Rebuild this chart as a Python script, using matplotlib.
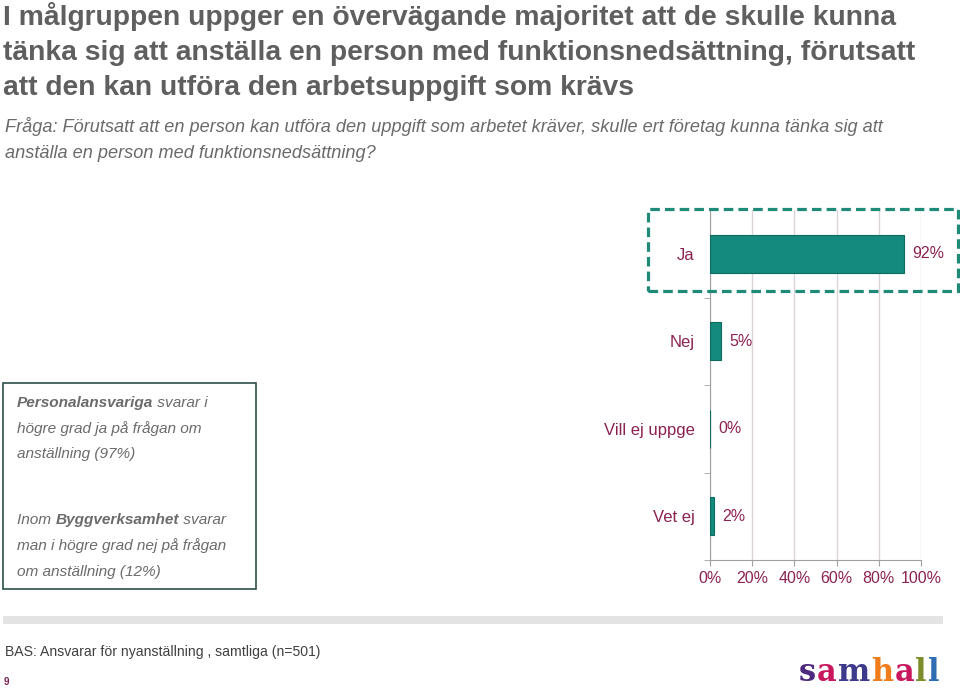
import matplotlib
matplotlib.use("Agg")
import matplotlib.pyplot as plt
from matplotlib.patches import Rectangle

# data
categories = ["Ja", "Nej", "Vill ej uppge", "Vet ej"]
values = [92, 5, 0, 2]
xticks = [0, 20, 40, 60, 80, 100]

title_lines = ["I målgruppen uppger en övervägande majoritet att de skulle kunna",
               "tänka sig att anställa en person med funktionsnedsättning, förutsatt",
               "att den kan utföra den arbetsuppgift som krävs"]
question_lines = ["Fråga: Förutsatt att en person kan utföra den uppgift som arbetet kräver, skulle ert företag kunna tänka sig att",
                  "anställa en person med funktionsnedsättning?"]
box_lines = [[("Personalansvariga", "bold"), (" svarar i", "normal")],
             [("högre grad ja på frågan om", "normal")],
             [("anställning (97%)", "normal")],
             [("Inom ", "normal"), ("Byggverksamhet", "bold"), (" svarar", "normal")],
             [("man i högre grad nej på frågan", "normal")],
             [("om anställning (12%)", "normal")]]
bas_text = "BAS: Ansvarar för nyanställning , samtliga (n=501)"
logo_letters = ["s", "a", "m", "h", "a", "l", "l"]
logo_colors = ["#4e2a7e", "#c8175d", "#3d3a8c", "#f07c1b", "#c8175d", "#7d8d2a", "#2f6cb3"]

plt.rcParams['font.family'] = ["Liberation Sans", "DejaVu Sans"]

W, H = 960, 690
fig = plt.figure(figsize=(9.6, 6.9), dpi=100)
fig.patch.set_facecolor("white")

def fx(x):
    return x / W

def fy(y):
    return 1 - y / H

# title
for i, line in enumerate(title_lines):
    fig.text(fx(3), fy(25 + i * 35), line, fontsize=20.3, fontweight="bold",
             color="#5f5f5f", va="baseline")

# question
for i, line in enumerate(question_lines):
    fig.text(fx(5), fy(132 + i * 26), line, fontsize=13.1, style="italic",
             color="#6a6a6a", va="baseline")

# chart
ax = fig.add_axes([fx(710), fy(560), fx(921 - 710), (560 - 210) / H])
pos = list(range(len(categories)))
ax.barh(pos, values, height=0.43, color="#138a7c", edgecolor="#0c6a5f", linewidth=0.8, zorder=3)
ax.set_xlim(0, 100)
ax.set_ylim(len(categories) - 0.5, -0.5)
ax.set_xticks(xticks)
ax.set_xticklabels([f"{t}%" for t in xticks], fontsize=11.5, color="#8b2252")
ax.set_yticks(pos)
ax.set_yticklabels(categories, fontsize=12, color="#8b2252")
ax.set_yticks([p + 0.5 for p in pos], minor=True)
ax.tick_params(axis="y", which="major", length=0, pad=11)
ax.tick_params(axis="y", which="minor", length=4, color="#a0a0a0", direction="out")
ax.tick_params(axis="x", length=4, color="#a0a0a0", pad=4)
ax.grid(axis="x", color="#dcd3d7", linewidth=1, zorder=0)
for s in ["top", "right"]:
    ax.spines[s].set_visible(False)
ax.spines["left"].set_color("#a0a0a0")
ax.spines["bottom"].set_color("#a0a0a0")
for p, v in zip(pos, values):
    ax.annotate(f"{v}%", (v, p), xytext=(6, 0), textcoords="offset points",
                va="center", ha="left", fontsize=11.5, color="#8b2252")

# dashed highlight around "Ja"
fig.patches.append(Rectangle((fx(648), fy(291)), fx(958 - 648), (291 - 209) / H,
                             transform=fig.transFigure, fill=False, edgecolor="#1f8a78",
                             linewidth=2.3, linestyle=(0, (3, 1.6))))

# text box
fig.patches.append(Rectangle((fx(3), fy(589)), fx(256 - 3), (589 - 383) / H,
                             transform=fig.transFigure, fill=False, edgecolor="#2f4f4a",
                             linewidth=1.2))
fig.canvas.draw()
renderer = fig.canvas.get_renderer()

def runs(x, y, parts, **kw):
    for txt, weight in parts:
        t = fig.text(fx(x), fy(y), txt, fontweight=weight, va="baseline", **kw)
        x += t.get_window_extent(renderer).width

box_y = [407, 433, 458, 524, 550, 576]
for y, parts in zip(box_y, box_lines):
    runs(17, y, parts, fontsize=11.1, style="italic", color="#6b6b6b")

# footer
fig.patches.append(Rectangle((fx(3), fy(624)), fx(943 - 3), 8 / H,
                             transform=fig.transFigure, color="#e3e3e3", linewidth=0))
fig.text(fx(5), fy(656), bas_text, fontsize=10.1, color="#404040", va="baseline")
fig.text(fx(4), fy(685), "9", fontsize=7, fontweight="bold", color="#7a1f4f", va="baseline")

# logo
lx = 799
for ch, col in zip(logo_letters, logo_colors):
    t = fig.text(fx(lx), fy(681), ch, fontsize=22, fontweight="bold", family="DejaVu Serif",
                 color=col, va="baseline")
    lx += t.get_window_extent(renderer).width + 1

fig.savefig("out.png", dpi=100)
